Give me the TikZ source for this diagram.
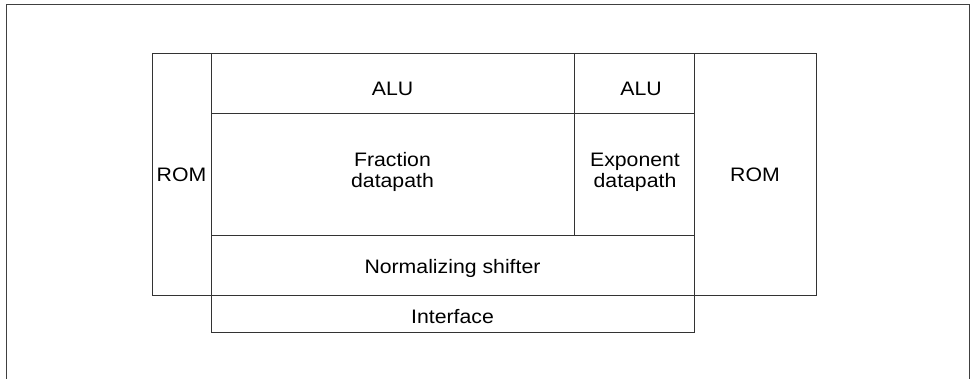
\documentclass[tikz,border=0pt]{standalone}
\usepackage{fontspec}
\setmainfont{Liberation Sans}[FakeStretch=1.09]
\begin{document}
\begin{tikzpicture}[x=1pt,y=-1pt,
  box/.style={draw=black!80,line width=0.9pt},
  frame/.style={draw=black!75,line width=0.8pt},
  lbl/.style={inner sep=0pt,anchor=base,font=\fontsize{19.5}{21}\selectfont},
  lbl2/.style={inner sep=0pt,anchor=base,align=center,font=\fontsize{19.5}{21}\selectfont}]
\useasboundingbox (0,0) rectangle (970,379);
% outer frame (open at bottom)
\draw[frame] (6,379) -- (6,4) -- (969,4) -- (969,379);
% left ROM
\draw[box] (152,53) rectangle (211,295);
% right ROM
\draw[box] (694,53) rectangle (816,295);
% central block
\draw[box] (211,53) rectangle (694,295);
\draw[box] (211,113) -- (694,113);
\draw[box] (211,235) -- (694,235);
\draw[box] (574,53) -- (574,235);
% interface
\draw[box] (211,295) rectangle (694,332);
% labels
\node[lbl] (romL) at (181.5,181.7) {ROM};
\node[lbl] (romR) at (755,181.7) {ROM};
\node[lbl] (aluF) at (392.5,96) {ALU};
\node[lbl] (aluE) at (641,96) {ALU};
\node[lbl2] (frac) at (392.5,187.7) {Fraction\\datapath};
\node[lbl2] (expo) at (635,187.7) {Exponent\\datapath};
\node[lbl] (norm) at (452.5,273.3) {Normalizing shifter};
\node[lbl] (intf) at (452.5,323.3) {Interface};
\end{tikzpicture}
\end{document}
